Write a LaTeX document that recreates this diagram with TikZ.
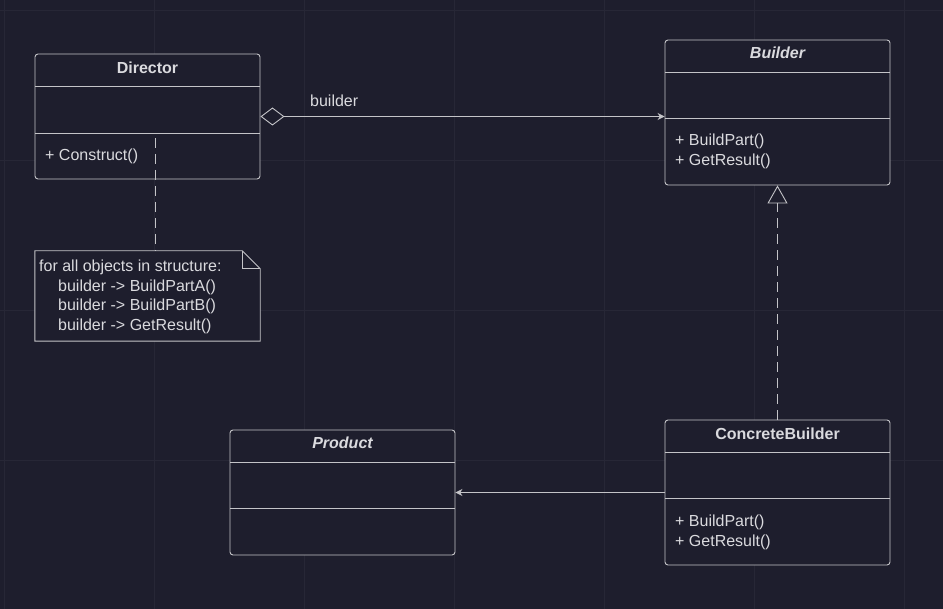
\documentclass[tikz,border=0pt]{standalone}
\usepackage{fontspec}
\setmainfont{Liberation Sans}
\usetikzlibrary{arrows.meta,calc}
\definecolor{bg}{HTML}{1E1E2D}
\definecolor{gridc}{HTML}{272736}
\definecolor{ln}{HTML}{C4C4C8}
\definecolor{tx}{HTML}{DADADE}
\begin{document}
\begin{tikzpicture}[x=1pt,y=-1pt,
  cls/.style={draw=ln, line width=0.9pt, rounded corners=3pt, minimum width=225pt, inner sep=0pt},
  txt/.style={text=tx, font=\fontsize{16}{18}\selectfont, inner sep=0pt, anchor=base west},
  ttl/.style={text=tx, font=\fontsize{16}{18}\selectfont\bfseries, inner sep=0pt, anchor=base},
  ittl/.style={ttl, font=\fontsize{16}{18}\selectfont\bfseries\itshape},
  div/.style={draw=ln, line width=0.9pt},
  conn/.style={draw=ln, line width=0.9pt},
  dashln/.style={conn, dash pattern=on 10pt off 6pt}]
% background
\fill[bg] (0,0) rectangle (943,609);
\useasboundingbox (0,0) rectangle (943,609);
\foreach \gx in {4,154,304,454,604,754,904} \draw[gridc, line width=0.8pt] (\gx,0) -- (\gx,609);
\foreach \gy in {10,160,310,460} \draw[gridc, line width=0.8pt] (0,\gy) -- (943,\gy);

% Director
\node[cls, minimum height=125pt, fill=bg] (dir) at (147.5,116.5) {};
\draw[div] (35,86) -- (260,86);
\draw[div] (35,133) -- (260,133);
\node[ttl] (dirT) at (147.5,74) {Director};
\node[txt] (dirM) at (45,161) {+ Construct()};

% Builder
\node[cls, minimum height=145pt, fill=bg] (bld) at (777.5,112.5) {};
\draw[div] (665,72) -- (890,72);
\draw[div] (665,118) -- (890,118);
\node[ittl] (bldT) at (777.5,59) {Builder};
\node[txt] (bldM1) at (675,146) {+ BuildPart()};
\node[txt] (bldM2) at (675,166) {+ GetResult()};

% Product
\node[cls, minimum height=125pt, fill=bg] (prod) at (342.5,492.5) {};
\draw[div] (230,462) -- (455,462);
\draw[div] (230,508) -- (455,508);
\node[ittl] (prodT) at (342.5,449) {Product};

% ConcreteBuilder
\node[cls, minimum height=145pt, fill=bg] (cb) at (777.5,492.5) {};
\draw[div] (665,452) -- (890,452);
\draw[div] (665,498) -- (890,498);
\node[ttl] (cbT) at (777.5,440) {ConcreteBuilder};
\node[txt] (cbM1) at (675,526) {+ BuildPart()};
\node[txt] (cbM2) at (675,546) {+ GetResult()};

% Note
\node[minimum width=225pt, minimum height=90pt, inner sep=0pt] (note) at (147.5,296) {};
\draw[div, fill=bg] (note.south west) -- (note.north west) -- ($(note.north east)+(-18,0)$) -- ($(note.north east)+(0,18)$) -- (note.south east) -- cycle;
\draw[div] ($(note.north east)+(-18,0)$) -- ($(note.north east)+(-18,18)$) -- ($(note.north east)+(0,18)$);
\node[txt] (n1) at (39,272) {for all objects in structure:};
\node[txt] (n2) at (58,292) {builder -> BuildPartA()};
\node[txt] (n3) at (58,311) {builder -> BuildPartB()};
\node[txt] (n4) at (58,331) {builder -> GetResult()};

% connectors
\coordinate (dstart) at (155,138);
\draw[dashln] (dstart) -- (dstart |- note.north);

\draw[conn, {Diamond[open,length=24pt,width=18pt]}-{Stealth[length=7pt,width=7pt]}] (dir.east) -- (dir.east -| bld.west);
\node[text=tx, font=\fontsize{16}{18}\selectfont, inner sep=0pt, anchor=base west] (lbl) at (310,107) {builder};

\draw[dashln, -{Triangle[open,length=18pt,width=20pt]}] (cb.north) -- (bld.south);
\draw[conn, -{Stealth[length=7pt,width=7pt]}] (cb.west) -- (prod.east);
\end{tikzpicture}
\end{document}
